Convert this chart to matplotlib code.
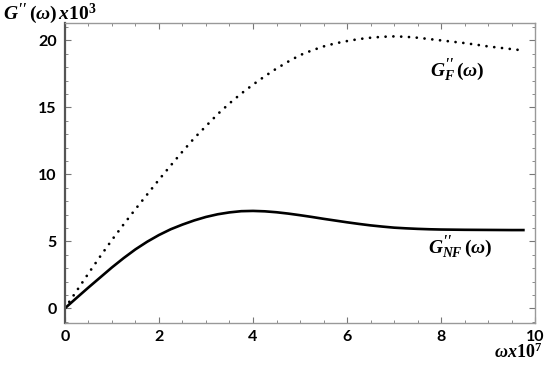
import matplotlib
matplotlib.use("Agg")
import matplotlib.pyplot as plt
from matplotlib.ticker import MultipleLocator

# values
omega = [0, 0.25, 0.5, 0.75, 1, 1.25, 1.5, 1.75, 2, 2.25, 2.5, 2.75, 3,
         3.25, 3.5, 3.75, 4, 4.25, 4.5, 4.75, 5, 5.25, 5.5, 5.75, 6, 6.25,
         6.5, 6.75, 7, 7.25, 7.5, 7.75, 8, 8.25, 8.5, 8.75, 9, 9.25, 9.5, 9.75]
g_nf = [0, 0.78, 1.55, 2.3, 3.05, 3.75, 4.4, 4.97, 5.47, 5.9, 6.25, 6.56,
        6.82, 7.02, 7.16, 7.25, 7.27, 7.24, 7.17, 7.07, 6.95, 6.82, 6.68, 6.55,
        6.42, 6.3, 6.19, 6.1, 6.02, 5.97, 5.93, 5.9, 5.88, 5.87, 5.86, 5.855,
        5.85, 5.845, 5.84, 5.84]
g_f = [0, 1.3, 2.6, 3.87, 5.1, 6.27, 7.4, 8.5, 9.6, 10.66, 11.7, 12.7, 13.6,
       14.5, 15.3, 16.03, 16.7, 17.32, 17.9, 18.42, 18.9, 19.25, 19.55, 19.78,
       19.95, 20.1, 20.2, 20.27, 20.3, 20.27, 20.2, 20.1, 20.0, 19.9, 19.8,
       19.68, 19.55, 19.45, 19.35, 19.25]
x_ticks = [0, 2, 4, 6, 8, 10]
y_ticks = [0, 5, 10, 15, 20]

plt.rcParams['mathtext.fontset'] = 'custom'
plt.rcParams['mathtext.rm'] = 'Liberation Serif:bold'
plt.rcParams['mathtext.it'] = 'Liberation Serif:italic:bold'
plt.rcParams['mathtext.bf'] = 'Liberation Serif:bold'

fig = plt.figure(figsize=(5.5, 3.65), dpi=100)
ax = fig.add_axes([0.118, 0.115, 0.855, 0.822])

ax.plot(omega, g_f, color='black', linewidth=2.0, linestyle=(0, (0.01, 2.8)),
        dash_capstyle='round')
ax.plot(omega, g_nf, color='black', linewidth=1.9)

ax.set_xlim(0, 10)
ax.set_ylim(-1.1, 21.3)
ax.set_xticks(x_ticks)
ax.set_yticks(y_ticks)
ax.xaxis.set_minor_locator(MultipleLocator(0.5))
ax.yaxis.set_minor_locator(MultipleLocator(1))
ax.tick_params(which='both', direction='in', top=True, right=True,
               colors='#777777', labelcolor='black')
ax.tick_params(which='major', length=4, width=0.8)
ax.tick_params(which='minor', length=2.5, width=0.6)
ax.tick_params(axis='x', pad=5)
ax.tick_params(axis='y', pad=6)
for lab in ax.get_xticklabels() + ax.get_yticklabels():
    lab.set_fontfamily('Lato')
    lab.set_fontweight('bold')
    lab.set_fontsize(11.5)

for side in ['top', 'right', 'bottom']:
    ax.spines[side].set_color('#999999')
    ax.spines[side].set_linewidth(1.0)
ax.spines['left'].set_color('#555555')
ax.spines['left'].set_linewidth(1.6)

ax.text(0.834, 0.843, r'$G^{\prime\prime}_{F}\,(\omega)$', transform=ax.transAxes,
        fontsize=14, ha='center', va='center')
ax.text(0.84, 0.253, r'$G^{\prime\prime}_{NF}\,(\omega)$', transform=ax.transAxes,
        fontsize=14, ha='center', va='center')

fig.text(0.005, 0.962, r'$G^{\prime\prime}\,(\omega)\,x\mathrm{10}^{3}$',
         fontsize=14, ha='left', va='center')
fig.text(0.985, 0.035, r'$\omega x\mathrm{10}^{7}$', fontsize=13,
         ha='right', va='center')

fig.savefig('out.png', dpi=100)
